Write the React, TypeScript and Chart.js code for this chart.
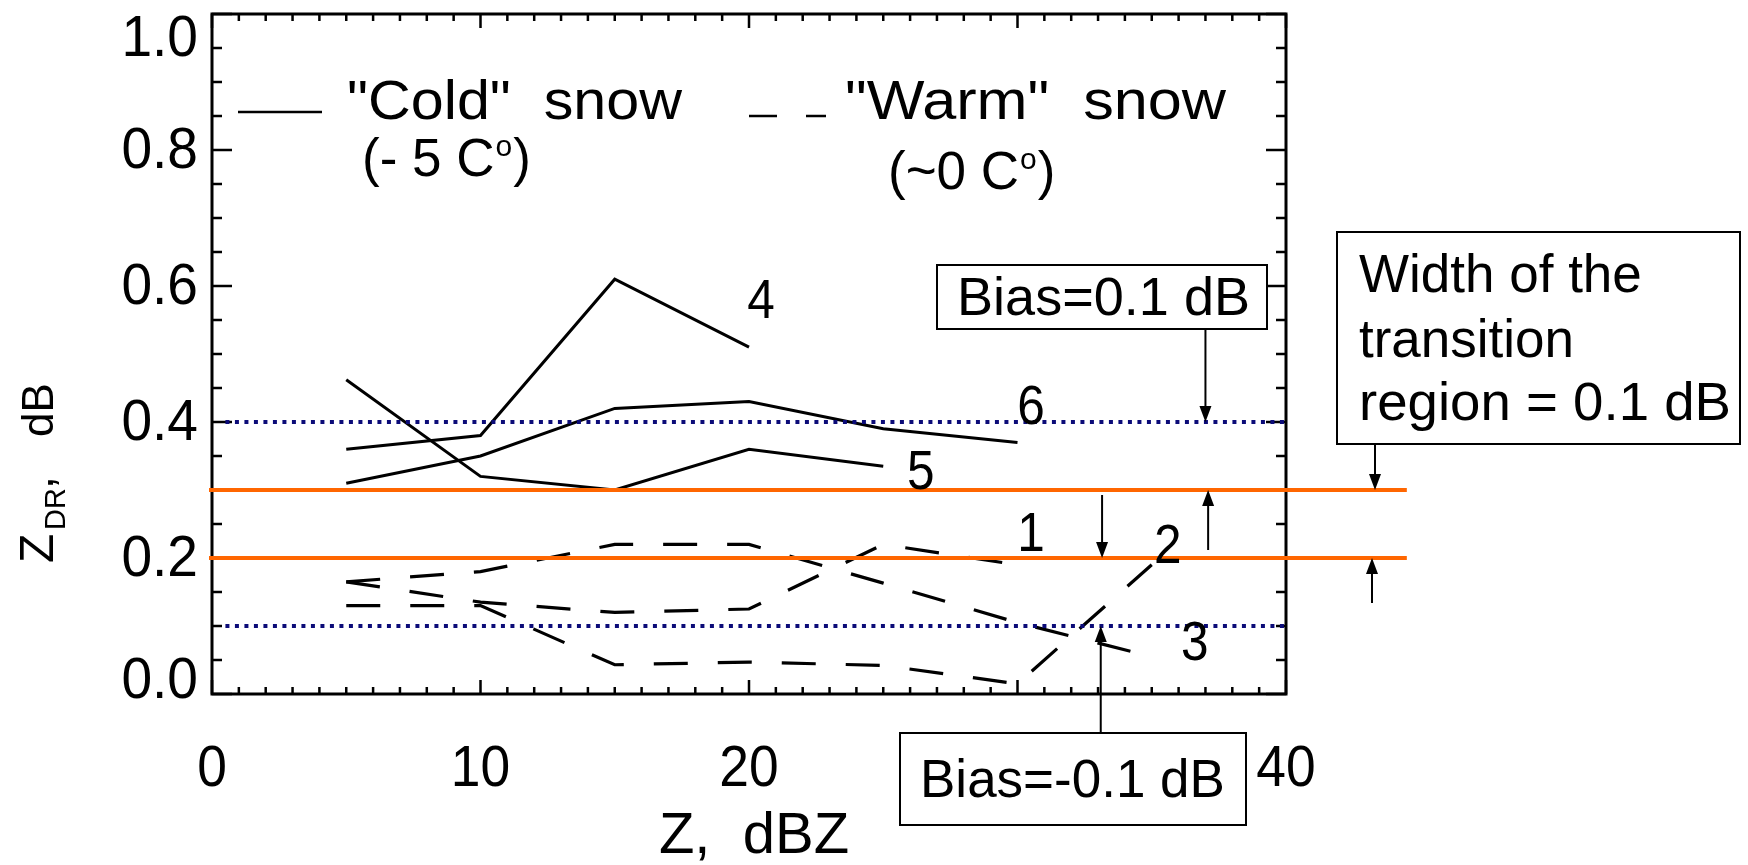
import React, { useEffect, useRef } from 'react';
import { Chart, registerables } from 'chart.js';

Chart.register(...registerables);

// Reflectivity bins (dBZ) and mean ZDR (dB) for each snow case
const zBins = [5, 10, 15, 20, 25, 30, 35];
const cold4 = [0.36, 0.38, 0.61, 0.51];
const cold5 = [0.462, 0.32, 0.3, 0.36, 0.335];
const cold6 = [0.31, 0.35, 0.42, 0.43, 0.39, 0.37];
const warm1 = [0.165, 0.135, 0.12, 0.125, 0.22, 0.19];
const warm2 = [0.13, 0.13, 0.043, 0.047, 0.042, 0.015, 0.19];
const warm3 = [0.165, 0.18, 0.22, 0.22, 0.163, 0.105, 0.055];

// Axis ticks
const xTickValues = [0, 10, 20, 30, 40];
const xTickLabels = ['0', '10', '20', '30', '40'];
const yTickValues = [0, 0.2, 0.4, 0.6, 0.8, 1.0];
const yTickLabels = ['0.0', '0.2', '0.4', '0.6', '0.8', '1.0'];

// Transition region (orange) and biased thresholds (dotted)
const transitionLevels = [0.3, 0.2];
const biasLevels = [0.4, 0.1];

// Curve numbers placed next to the curve ends
const curveNames = ['4', '6', '5', '1', '2', '3'];
const curveNameZ = [20.45, 30.5, 26.4, 30.5, 35.6, 36.6];
const curveNameZdr = [0.575, 0.42, 0.324, 0.232, 0.215, 0.073];

const SANS = "'Liberation Sans', Arial, sans-serif";

const pts = (vals: number[]) => vals.map((v, i) => ({ x: zBins[i], y: v }));

function drawText(
  ctx: CanvasRenderingContext2D,
  s: string,
  x: number,
  y: number,
  size: number,
  opts: { align?: 'left' | 'center' | 'right'; baseline?: CanvasTextBaseline; width?: number; sx?: number } = {}
) {
  ctx.save();
  ctx.font = `${size}px ${SANS}`;
  ctx.textBaseline = opts.baseline ?? 'alphabetic';
  ctx.textAlign = 'left';
  const w = ctx.measureText(s).width;
  const sx = opts.width ? opts.width / w : opts.sx ?? 1;
  const dw = w * sx;
  let x0 = x;
  if (opts.align === 'center') x0 = x - dw / 2;
  else if (opts.align === 'right') x0 = x - dw;
  ctx.translate(x0, y);
  ctx.scale(sx, 1);
  ctx.fillStyle = '#000';
  ctx.fillText(s, 0, 0);
  ctx.restore();
}

function arrow(ctx: CanvasRenderingContext2D, x: number, yFrom: number, yTo: number) {
  const dir = yTo > yFrom ? 1 : -1;
  const head = 16;
  ctx.save();
  ctx.strokeStyle = '#000';
  ctx.fillStyle = '#000';
  ctx.lineWidth = 2;
  ctx.beginPath();
  ctx.moveTo(x, yFrom);
  ctx.lineTo(x, yTo - dir * head);
  ctx.stroke();
  ctx.beginPath();
  ctx.moveTo(x, yTo);
  ctx.lineTo(x - 6, yTo - dir * head);
  ctx.lineTo(x + 6, yTo - dir * head);
  ctx.closePath();
  ctx.fill();
  ctx.restore();
}

function box(ctx: CanvasRenderingContext2D, x: number, y: number, w: number, h: number) {
  ctx.save();
  ctx.fillStyle = '#fff';
  ctx.fillRect(x, y, w, h);
  ctx.strokeStyle = '#000';
  ctx.lineWidth = 2;
  ctx.strokeRect(x, y, w, h);
  ctx.restore();
}

// IDL-style frame: box with inward major/minor ticks and labels
const framePlugin = {
  id: 'idlFrame',
  beforeDatasetsDraw(chart: any) {
    const ctx: CanvasRenderingContext2D = chart.ctx;
    const { left, right, top, bottom } = chart.chartArea;
    const xs = chart.scales.x;
    const ys = chart.scales.y;
    ctx.save();
    ctx.strokeStyle = '#000';
    ctx.lineWidth = 2.5;
    // x ticks every 1 dBZ, major every 10
    for (let v = 0; v <= 40; v++) {
      const px = xs.getPixelForValue(v);
      const len = v % 10 === 0 ? 14 : 7;
      ctx.beginPath();
      ctx.moveTo(px, bottom);
      ctx.lineTo(px, bottom - len);
      ctx.moveTo(px, top);
      ctx.lineTo(px, top + len);
      ctx.stroke();
    }
    // y ticks every 0.05, major every 0.2
    for (let k = 0; k <= 20; k++) {
      const py = ys.getPixelForValue(k * 0.05);
      const len = k % 4 === 0 ? 20 : 10;
      ctx.beginPath();
      ctx.moveTo(left, py);
      ctx.lineTo(left + len, py);
      ctx.moveTo(right, py);
      ctx.lineTo(right - len, py);
      ctx.stroke();
    }
    ctx.lineWidth = 3;
    ctx.strokeRect(left, top, right - left, bottom - top);
    ctx.restore();

    // tick labels
    xTickValues.forEach((v, i) => {
      drawText(ctx, xTickLabels[i], xs.getPixelForValue(v), 786, 58, { align: 'center', sx: 0.92 });
    });
    yTickValues.forEach((v, i) => {
      let py = ys.getPixelForValue(v) + 2;
      if (v === 0) py -= 14;
      if (v === 1) py += 24;
      drawText(ctx, yTickLabels[i], 198, py, 58, { align: 'right', baseline: 'middle', sx: 0.95 });
    });

    // axis titles
    drawText(ctx, 'Z,  dBZ', 754, 853, 58, { align: 'center' });
    ctx.save();
    ctx.translate(53, 563);
    ctx.rotate(-Math.PI / 2);
    ctx.fillStyle = '#000';
    ctx.font = `48px ${SANS}`;
    ctx.fillText('Z', 0, 0);
    ctx.font = `29px ${SANS}`;
    ctx.fillText('DR', 33, 12);
    ctx.font = `46px ${SANS}`;
    ctx.fillText(',', 74, 0);
    ctx.font = `44px ${SANS}`;
    ctx.fillText('dB', 126, 0);
    ctx.restore();
  },
  afterDatasetsDraw(chart: any) {
    const ctx: CanvasRenderingContext2D = chart.ctx;
    const xs = chart.scales.x;
    const ys = chart.scales.y;
    const X = (v: number) => xs.getPixelForValue(v);
    const Y = (v: number) => ys.getPixelForValue(v);

    // biased thresholds
    ctx.save();
    ctx.strokeStyle = '#0b0b78';
    ctx.lineWidth = 4;
    ctx.setLineDash([4, 5.5]);
    biasLevels.forEach((lv) => {
      ctx.beginPath();
      ctx.moveTo(X(0.5), Y(lv));
      ctx.lineTo(X(40), Y(lv));
      ctx.stroke();
    });
    ctx.restore();

    // transition region bounds
    ctx.save();
    ctx.strokeStyle = '#ff6600';
    ctx.lineWidth = 4;
    transitionLevels.forEach((lv) => {
      ctx.beginPath();
      ctx.moveTo(X(0) - 3, Y(lv));
      ctx.lineTo(X(44.5), Y(lv));
      ctx.stroke();
    });
    ctx.restore();

    // curve numbers
    curveNames.forEach((n, i) => {
      drawText(ctx, n, X(curveNameZ[i]), Y(curveNameZdr[i]), 55, { align: 'center', baseline: 'middle', sx: 0.9 });
    });

    // legend
    ctx.save();
    ctx.strokeStyle = '#000';
    ctx.lineWidth = 2.5;
    ctx.beginPath();
    ctx.moveTo(238, 112);
    ctx.lineTo(322, 112);
    ctx.moveTo(749, 116);
    ctx.lineTo(777, 116);
    ctx.moveTo(806, 116);
    ctx.lineTo(826, 116);
    ctx.stroke();
    ctx.restore();
    drawText(ctx, '"Cold"  snow', 347, 119, 55, { width: 335 });
    drawText(ctx, '"Warm"  snow', 845, 119, 55, { width: 381 });

    const tempLabel = (pre: string, x: number, base: number) => {
      ctx.save();
      ctx.fillStyle = '#000';
      ctx.font = `53px ${SANS}`;
      ctx.textAlign = 'left';
      ctx.fillText(pre, x, base);
      let cx = x + ctx.measureText(pre).width;
      ctx.font = `30px ${SANS}`;
      ctx.fillText('o', cx + 1, base - 20);
      cx += ctx.measureText('o').width + 2;
      ctx.font = `53px ${SANS}`;
      ctx.fillText(')', cx, base);
      ctx.restore();
    };
    tempLabel('(- 5 C', 362, 176);
    tempLabel('(~0 C', 888, 189);

    // annotation arrows
    arrow(ctx, X(37), 329, Y(0.4));
    arrow(ctx, 1375, 444, Y(0.3));
    arrow(ctx, X(33.15), 495, Y(0.2));
    arrow(ctx, X(37.1), 550, Y(0.3));
    arrow(ctx, 1372, 603, Y(0.2));
    arrow(ctx, X(33.1), 733, Y(0.1));

    // annotation boxes
    box(ctx, 937, 265, 330, 64);
    drawText(ctx, 'Bias=0.1 dB', 957, 315, 53, { width: 293 });
    box(ctx, 1337, 232, 403, 212);
    drawText(ctx, 'Width of the', 1359, 292, 53);
    drawText(ctx, 'transition', 1359, 357, 53);
    drawText(ctx, 'region = 0.1 dB', 1359, 420, 53, { width: 372 });
    box(ctx, 900, 733, 346, 92);
    drawText(ctx, 'Bias=-0.1 dB', 920, 797, 53);
  },
};

export default function App() {
  const canvasRef = useRef<HTMLCanvasElement | null>(null);

  useEffect(() => {
    document.body.style.margin = '0';
    document.body.style.overflow = 'hidden';
    const canvas = canvasRef.current;
    if (!canvas) return;

    const solid = (vals: number[], label: string) => ({
      label,
      data: pts(vals),
      borderColor: '#000',
      borderWidth: 3,
      pointRadius: 0,
      fill: false,
      tension: 0,
    });
    const dashed = (vals: number[], label: string) => ({
      ...solid(vals, label),
      borderWidth: 3.2,
      borderDash: [34, 30],
    });

    const chart = new Chart(canvas, {
      type: 'line',
      data: {
        datasets: [
          solid(cold4, 'Cold 4'),
          solid(cold5, 'Cold 5'),
          solid(cold6, 'Cold 6'),
          dashed(warm1, 'Warm 1'),
          dashed(warm2, 'Warm 2'),
          dashed(warm3, 'Warm 3'),
        ],
      },
      options: {
        animation: false,
        responsive: false,
        devicePixelRatio: 1,
        layout: { padding: { left: 212, top: 14, right: 462, bottom: 171 } },
        plugins: { legend: { display: false }, tooltip: { enabled: false } },
        scales: {
          x: { type: 'linear', min: 0, max: 40, display: false },
          y: { type: 'linear', min: 0, max: 1, display: false },
        },
      },
      plugins: [framePlugin],
    });
    return () => chart.destroy();
  }, []);

  return (
    <div style={{ width: 1748, height: 865, background: '#fff' }}>
      <canvas ref={canvasRef} width={1748} height={865} style={{ display: 'block' }} />
    </div>
  );
}
